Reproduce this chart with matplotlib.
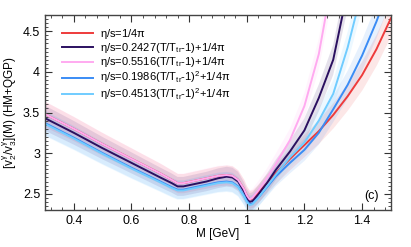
import matplotlib
matplotlib.use('Agg')
import matplotlib.pyplot as plt
import numpy as np
from matplotlib.ticker import MultipleLocator

# invariant mass grid [GeV]
M = [0.30, 0.40, 0.50, 0.60, 0.70, 0.74, 0.76, 0.78, 0.82, 0.86, 0.90, 0.93,
     0.95, 0.97, 0.99, 1.00, 1.01, 1.02, 1.04, 1.07, 1.10, 1.15, 1.20, 1.25,
     1.30, 1.35, 1.40, 1.45, 1.50]

# v2/v3 ratio for the five eta/s parametrisations
r_const = [3.48, 3.30, 3.11, 2.93, 2.75, 2.67, 2.63, 2.63, 2.66, 2.69, 2.72, 2.73,
           2.72, 2.67, 2.56, 2.48, 2.43, 2.44, 2.51, 2.63, 2.75, 2.93, 3.10, 3.27,
           3.47, 3.70, 3.96, 4.28, 4.66]
r_lin1 = [3.43, 3.25, 3.06, 2.88, 2.70, 2.63, 2.59, 2.59, 2.62, 2.65, 2.69, 2.71,
          2.70, 2.65, 2.53, 2.45, 2.40, 2.41, 2.49, 2.63, 2.79, 3.02, 3.28, 3.68,
          4.15, 5.00, 5.80, 6.50, 7.20]
r_lin2 = [3.48, 3.30, 3.11, 2.93, 2.75, 2.67, 2.63, 2.63, 2.66, 2.69, 2.72, 2.73,
          2.72, 2.67, 2.56, 2.48, 2.43, 2.45, 2.54, 2.69, 2.86, 3.16, 3.58, 4.22,
          5.20, 6.00, 6.80, 7.50, 8.20]
r_quad1 = [3.37, 3.19, 3.00, 2.82, 2.65, 2.58, 2.55, 2.55, 2.58, 2.61, 2.64, 2.65,
           2.64, 2.59, 2.48, 2.41, 2.37, 2.38, 2.45, 2.58, 2.71, 2.88, 3.04, 3.25,
           3.54, 3.84, 4.20, 4.62, 5.10]
r_quad2 = [3.36, 3.18, 2.99, 2.81, 2.64, 2.57, 2.54, 2.54, 2.57, 2.60, 2.63, 2.64,
           2.63, 2.58, 2.47, 2.40, 2.36, 2.37, 2.45, 2.59, 2.73, 2.95, 3.13, 3.40,
           3.73, 4.30, 5.00, 5.70, 6.40]

labels = [r'$\eta$/s=1/4$\pi$',
          r'$\eta$/s=0.2427(T/T$_{\rm tr}$-1)+1/4$\pi$',
          r'$\eta$/s=0.5516(T/T$_{\rm tr}$-1)+1/4$\pi$',
          r'$\eta$/s=0.1986(T/T$_{\rm tr}$-1)$^2$+1/4$\pi$',
          r'$\eta$/s=0.4513(T/T$_{\rm tr}$-1)$^2$+1/4$\pi$']
colors = ['#ee3b3b', '#2b1060', '#ffaaf0', '#3a8cf5', '#70ccff']
rel_err = 0.045

plt.rcParams['font.family'] = 'Liberation Sans'
plt.rcParams['mathtext.fontset'] = 'custom'
plt.rcParams['mathtext.rm'] = 'Liberation Sans'
plt.rcParams['mathtext.it'] = 'Liberation Sans'

fig = plt.figure(figsize=(4.11, 2.47), dpi=100)
ax = fig.add_axes([0.1095, 0.150, 0.8415, 0.789])

x = np.array(M)
series = [r_const, r_lin1, r_lin2, r_quad1, r_quad2]
for y, c in zip(series, colors):
    y = np.array(y)
    ax.fill_between(x, y * (1 - rel_err), y * (1 + rel_err), color=c,
                    alpha=0.12, linewidth=0)
for y, c, lab in zip(series, colors, labels):
    ax.plot(x, y, '-', color=c, linewidth=1.4, label=lab)

ax.set_xlim(0.3, 1.5)
ax.set_ylim(2.3, 4.7)
ax.xaxis.set_minor_locator(MultipleLocator(0.04))
ax.yaxis.set_minor_locator(MultipleLocator(0.05))
ax.set_xticks([0.4, 0.6, 0.8, 1.0, 1.2, 1.4])
ax.set_xticklabels(['0.4', '0.6', '0.8', '1', '1.2', '1.4'])
ax.set_yticks([2.5, 3.0, 3.5, 4.0, 4.5])
ax.set_yticklabels(['2.5', '3', '3.5', '4', '4.5'])
ax.tick_params(which='both', direction='in', top=True, right=True,
               labelsize=9, color='#333333')
ax.tick_params(which='major', length=5, width=0.8)
ax.tick_params(which='minor', length=2.5, width=0.6)
for s in ax.spines.values():
    s.set_linewidth(1.0)
    s.set_color('#444444')

ax.set_xlabel('M [GeV]', fontsize=8.5, labelpad=1)
ax.set_ylabel(r'[v$_2^{\gamma}$/v$_3^{\gamma}$](M) (HM+QGP)', fontsize=8.5, labelpad=3)
ax.text(0.965, 0.04, '(c)', transform=ax.transAxes, fontsize=9, ha='right', va='bottom')

ax.legend(loc='upper left', bbox_to_anchor=(0.02, 0.99), frameon=False,
          fontsize=8, handlelength=2.8, labelspacing=0.02, handletextpad=0.6)

plt.savefig('out.png', dpi=100)
